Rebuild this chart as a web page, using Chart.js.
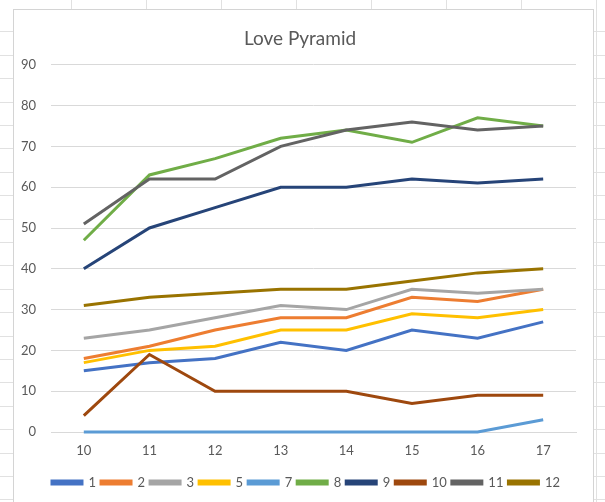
<!DOCTYPE html>
<html>
<head>
<meta charset="utf-8">
<script src="https://cdn.jsdelivr.net/npm/chart.js@4"></script>
<style>
  html, body { margin: 0; padding: 0; }
  body {
    width: 605px; height: 502px; overflow: hidden; position: relative;
    background-color: #fff;
    background-image:
      repeating-linear-gradient(to right, transparent 0, transparent 74px, #e1e1e1 74px, #e1e1e1 75px),
      repeating-linear-gradient(to bottom, transparent 0, transparent 22.4px, #e1e1e1 22.4px, #e1e1e1 23.4px);
    background-position: -3px 9px, 0 9px;
  }
  #box {
    position: absolute; left: 13px; top: 9px; width: 579px; height: 500px;
    background: #fff; border: 1px solid #d4d4d4;
  }
  #wrap { position: absolute; left: 0; top: 0; width: 579px; height: 492px; }
</style>
</head>
<body>
<div id="box"><div id="wrap"><canvas id="c"></canvas></div></div>
<script>
const categories = ['10', '11', '12', '13', '14', '15', '16', '17'];
const seriesNames = ['1', '2', '3', '5', '7', '8', '9', '10', '11', '12'];
const s1  = [15, 17, 18, 22, 20, 25, 23, 27];
const s2  = [18, 21, 25, 28, 28, 33, 32, 35];
const s3  = [23, 25, 28, 31, 30, 35, 34, 35];
const s5  = [17, 20, 21, 25, 25, 29, 28, 30];
const s7  = [0, 0, 0, 0, 0, 0, 0, 3];
const s8  = [47, 63, 67, 72, 74, 71, 77, 75];
const s9  = [40, 50, 55, 60, 60, 62, 61, 62];
const s10 = [4, 19, 10, 10, 10, 7, 9, 9];
const s11 = [51, 62, 62, 70, 74, 76, 74, 75];
const s12 = [31, 33, 34, 35, 35, 37, 39, 40];
const yTicks = [0, 10, 20, 30, 40, 50, 60, 70, 80, 90];

const values = [s1, s2, s3, s5, s7, s8, s9, s10, s11, s12];
const colors = ['#4472C4', '#ED7D31', '#A5A5A5', '#FFC000', '#5B9BD5',
                '#70AD47', '#264478', '#9E480E', '#636363', '#997300'];

const font = 'Lato, "Open Sans", sans-serif';

// Excel centres title and legend on the whole chart box, not the plot
const nudge = {
  id: 'nudge',
  afterLayout(chart) {
    if (chart.legend) { chart.legend.left += 11; chart.legend.right += 11; }
    if (chart.titleBlock) { chart.titleBlock.left += 5; chart.titleBlock.right += 5; }
  }
};

new Chart(document.getElementById('c'), {
  type: 'line',
  data: {
    labels: categories,
    datasets: values.map((v, i) => ({
      label: seriesNames[i],
      data: v,
      borderColor: colors[i],
      backgroundColor: colors[i],
      borderWidth: 3,
      pointRadius: 0,
      tension: 0,
      clip: false,
      order: values.length - i   // later series drawn on top, as in Excel
    }))
  },
  plugins: [nudge],
  options: {
    responsive: true,
    maintainAspectRatio: false,
    animation: false,
    layout: { padding: { left: 0, right: 17, top: 0, bottom: 3 } },
    plugins: {
      title: {
        display: true,
        text: 'Love Pyramid',
        color: '#595959',
        font: { family: font, size: 19, weight: 'normal' },
        padding: { top: 17, bottom: 15 }
      },
      legend: {
        position: 'bottom',
        labels: {
          boxWidth: 30,
          boxHeight: 3,
          padding: 5,
          color: '#595959',
          font: { family: font, size: 13 },
          sort: (a, b) => a.datasetIndex - b.datasetIndex
        }
      },
      tooltip: { enabled: false }
    },
    scales: {
      x: {
        offset: true,
        grid: { display: false },
        border: { color: '#d9d9d9' },
        ticks: { color: '#595959', padding: 3, font: { family: font, size: 13 } },
        afterFit: s => { s.height = 39; }
      },
      y: {
        min: 0,
        max: 90,
        afterBuildTicks: s => { s.ticks = yTicks.map(v => ({ value: v })); },
        grid: { color: '#d9d9d9', drawTicks: false },
        border: { display: false },
        ticks: { color: '#595959', padding: 15, font: { family: font, size: 13 } },
        afterFit: s => { s.width = 37; }
      }
    }
  }
});
</script>
</body>
</html>
